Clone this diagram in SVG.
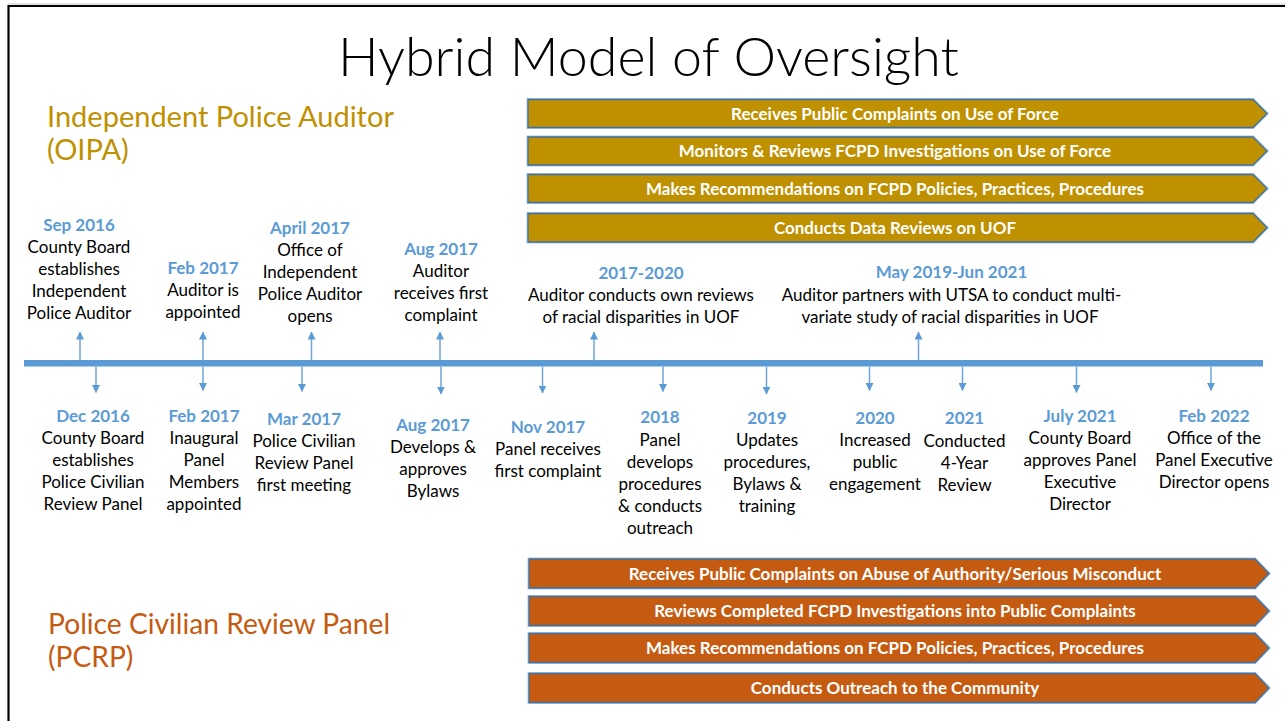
<svg xmlns="http://www.w3.org/2000/svg" width="1285" height="721" viewBox="0 0 1285 721">
  <style>
    .title { font-family: Lato, "Open Sans", "Liberation Sans", sans-serif; font-weight: 300; font-size: 53.8px; fill: #000; }
    .head { font-family: Lato, "Open Sans", "Liberation Sans", sans-serif; font-size: 29px; }
    .oipa { fill: #BF9000; }
    .pcrp { fill: #C55A11; font-size: 28.2px; }
    .bar-halo { stroke: #A9C6E8; stroke-width: 3; fill: none; }
    .bar-gold { fill: #BF9000; stroke: #41719C; stroke-width: 1.3; }
    .bar-orange { fill: #C55A11; stroke: #41719C; stroke-width: 1.3; }
    .bar-text { font-family: Lato, "Open Sans", "Liberation Sans", sans-serif; font-weight: 700; font-size: 17px; fill: #fff; text-anchor: middle; }
    .ev { font-family: Lato, "Open Sans", "Liberation Sans", sans-serif; font-size: 17px; fill: #000; text-anchor: middle; }
    .date { font-weight: 700; fill: #5B9BD5; }
    .tick { stroke: #6FA5DA; stroke-width: 1.5; fill: none; }
    .axis { fill: #5B9BD5; }
  </style>
  <defs>
    <marker id="tip" viewBox="0 0 8 8" refX="7.5" refY="4" markerWidth="8" markerHeight="8" markerUnits="userSpaceOnUse" orient="auto">
      <path d="M0,0 L8,4 L0,8 z" fill="#5B9BD5"/>
    </marker>
  </defs>

  <rect width="1285" height="721" fill="#fff"/>
  <!-- slide frame -->
  <path d="M8.5,721 V6 H1285" fill="none" stroke="#000" stroke-width="2.2"/>
  <path d="M8,4 H1285" fill="none" stroke="#C8C8C8" stroke-width="1"/>

  <g id="title">
    <text class="title" x="648.5" y="76" text-anchor="middle">Hybrid Model of Oversight</text>
  </g>

  <g id="heading-oipa">
    <text class="head oipa" x="47" y="127">Independent Police Auditor</text>
    <text class="head oipa" x="47" y="160">(OIPA)</text>
  </g>
  <g id="heading-pcrp">
    <text class="head pcrp" x="48" y="634">Police Civilian Review Panel</text>
    <text class="head pcrp" x="48" y="667">(PCRP)</text>
  </g>

  <!-- auditor function bars -->
  <g id="oipa-complaints">
    <polygon class="bar-halo" points="528,99.5 1253,99.5 1267,113.5 1253,127.5 528,127.5"/>
    <polygon class="bar-gold" points="528,99.5 1253,99.5 1267,113.5 1253,127.5 528,127.5"/>
    <text class="bar-text" x="895" y="119.5">Receives Public Complaints on Use of Force</text>
  </g>
  <g id="oipa-monitors">
    <polygon class="bar-halo" points="528,137 1253,137 1267,151 1253,165 528,165"/>
    <polygon class="bar-gold" points="528,137 1253,137 1267,151 1253,165 528,165"/>
    <text class="bar-text" x="895" y="157">Monitors &amp; Reviews FCPD Investigations on Use of Force</text>
  </g>
  <g id="oipa-recommendations">
    <polygon class="bar-halo" points="528,174.5 1253,174.5 1267,188.5 1253,202.5 528,202.5"/>
    <polygon class="bar-gold" points="528,174.5 1253,174.5 1267,188.5 1253,202.5 528,202.5"/>
    <text class="bar-text" x="895" y="194.5">Makes Recommendations on FCPD Policies, Practices, Procedures</text>
  </g>
  <g id="oipa-data">
    <polygon class="bar-halo" points="528,213.5 1253,213.5 1267,227.75 1253,242 528,242"/>
    <polygon class="bar-gold" points="528,213.5 1253,213.5 1267,227.75 1253,242 528,242"/>
    <text class="bar-text" x="895" y="234">Conducts Data Reviews on UOF</text>
  </g>

  <!-- panel function bars -->
  <g id="pcrp-complaints">
    <polygon class="bar-halo" points="529,559 1255,559 1269,573.5 1255,588 529,588"/>
    <polygon class="bar-orange" points="529,559 1255,559 1269,573.5 1255,588 529,588"/>
    <text class="bar-text" x="895" y="579.5">Receives Public Complaints on Abuse of Authority/Serious Misconduct</text>
  </g>
  <g id="pcrp-reviews">
    <polygon class="bar-halo" points="529,596.5 1255,596.5 1269,611 1255,625.5 529,625.5"/>
    <polygon class="bar-orange" points="529,596.5 1255,596.5 1269,611 1255,625.5 529,625.5"/>
    <text class="bar-text" x="895" y="617">Reviews Completed FCPD Investigations into Public Complaints</text>
  </g>
  <g id="pcrp-recommendations">
    <polygon class="bar-halo" points="529,633.5 1255,633.5 1269,648 1255,662.5 529,662.5"/>
    <polygon class="bar-orange" points="529,633.5 1255,633.5 1269,648 1255,662.5 529,662.5"/>
    <text class="bar-text" x="895" y="654">Makes Recommendations on FCPD Policies, Practices, Procedures</text>
  </g>
  <g id="pcrp-outreach">
    <polygon class="bar-halo" points="529,673.5 1255,673.5 1269,688 1255,702.5 529,702.5"/>
    <polygon class="bar-orange" points="529,673.5 1255,673.5 1269,688 1255,702.5 529,702.5"/>
    <text class="bar-text" x="895" y="694">Conducts Outreach to the Community</text>
  </g>

  <!-- timeline axis and event ticks -->
  <g id="connectors">
    <rect class="axis" x="24" y="360" width="1239" height="6.5"/>
    <!-- auditor milestones, above the axis -->
    <line class="tick" x1="80" y1="360" x2="80" y2="332" marker-end="url(#tip)"/>
    <line class="tick" x1="203" y1="360" x2="203" y2="332" marker-end="url(#tip)"/>
    <line class="tick" x1="311.5" y1="360" x2="311.5" y2="332" marker-end="url(#tip)"/>
    <line class="tick" x1="440" y1="360" x2="440" y2="332" marker-end="url(#tip)"/>
    <line class="tick" x1="594" y1="360" x2="594" y2="332" marker-end="url(#tip)"/>
    <line class="tick" x1="918.5" y1="360" x2="918.5" y2="332" marker-end="url(#tip)"/>
    <!-- panel milestones, below the axis -->
    <line class="tick" x1="96" y1="366.5" x2="96" y2="392.5" marker-end="url(#tip)"/>
    <line class="tick" x1="203" y1="366.5" x2="203" y2="390.5" marker-end="url(#tip)"/>
    <line class="tick" x1="302" y1="366.5" x2="302" y2="391.5" marker-end="url(#tip)"/>
    <line class="tick" x1="441" y1="366.5" x2="441" y2="394" marker-end="url(#tip)"/>
    <line class="tick" x1="542.5" y1="366.5" x2="542.5" y2="393" marker-end="url(#tip)"/>
    <line class="tick" x1="663" y1="366.5" x2="663" y2="391.5" marker-end="url(#tip)"/>
    <line class="tick" x1="766.5" y1="366.5" x2="766.5" y2="394" marker-end="url(#tip)"/>
    <line class="tick" x1="869.5" y1="366.5" x2="869.5" y2="390.5" marker-end="url(#tip)"/>
    <line class="tick" x1="962.5" y1="366.5" x2="962.5" y2="390.5" marker-end="url(#tip)"/>
    <line class="tick" x1="1076.5" y1="366.5" x2="1076.5" y2="392.5" marker-end="url(#tip)"/>
    <line class="tick" x1="1211" y1="366.5" x2="1211" y2="390.5" marker-end="url(#tip)"/>
  </g>

  <!-- auditor milestones -->
  <g id="ev-sep-2016">
    <text class="ev"><tspan class="date" x="79" y="231">Sep 2016</tspan><tspan x="79" y="253">County Board</tspan><tspan x="79" y="275">establishes</tspan><tspan x="79" y="297">Independent</tspan><tspan x="79" y="319">Police Auditor</tspan></text>
  </g>
  <g id="ev-feb-2017-auditor">
    <text class="ev"><tspan class="date" x="203" y="274">Feb 2017</tspan><tspan x="203" y="296">Auditor is</tspan><tspan x="203" y="318">appointed</tspan></text>
  </g>
  <g id="ev-apr-2017">
    <text class="ev"><tspan class="date" x="310" y="234">April 2017</tspan><tspan x="310" y="256">Office of</tspan><tspan x="310" y="278">Independent</tspan><tspan x="310" y="300">Police Auditor</tspan><tspan x="310" y="322">opens</tspan></text>
  </g>
  <g id="ev-aug-2017-auditor">
    <text class="ev"><tspan class="date" x="441" y="255">Aug 2017</tspan><tspan x="441" y="277">Auditor</tspan><tspan x="441" y="299">receives first</tspan><tspan x="441" y="321">complaint</tspan></text>
  </g>
  <g id="ev-2017-2020">
    <text class="ev"><tspan class="date" x="641" y="279">2017-2020</tspan><tspan x="641" y="301">Auditor conducts own reviews</tspan><tspan x="641" y="323">of racial disparities in UOF</tspan></text>
  </g>
  <g id="ev-2019-2021">
    <text class="ev"><tspan class="date" x="951.5" y="278">May 2019-Jun 2021</tspan><tspan x="951.5" y="301">Auditor partners with UTSA to conduct multi-</tspan><tspan x="950" y="323">variate study of racial disparities in UOF</tspan></text>
  </g>

  <!-- panel milestones -->
  <g id="ev-dec-2016">
    <text class="ev"><tspan class="date" x="93" y="422">Dec 2016</tspan><tspan x="93" y="444">County Board</tspan><tspan x="93" y="466">establishes</tspan><tspan x="93" y="488">Police Civilian</tspan><tspan x="93" y="510">Review Panel</tspan></text>
  </g>
  <g id="ev-feb-2017-panel">
    <text class="ev"><tspan class="date" x="204" y="422">Feb 2017</tspan><tspan x="204" y="444">Inaugural</tspan><tspan x="204" y="466">Panel</tspan><tspan x="204" y="488">Members</tspan><tspan x="204" y="510">appointed</tspan></text>
  </g>
  <g id="ev-mar-2017">
    <text class="ev"><tspan class="date" x="304" y="425">Mar 2017</tspan><tspan x="304" y="447">Police Civilian</tspan><tspan x="304" y="469">Review Panel</tspan><tspan x="304" y="491">first meeting</tspan></text>
  </g>
  <g id="ev-aug-2017-panel">
    <text class="ev"><tspan class="date" x="433" y="431">Aug 2017</tspan><tspan x="433" y="453">Develops &amp;</tspan><tspan x="433" y="475">approves</tspan><tspan x="433" y="497">Bylaws</tspan></text>
  </g>
  <g id="ev-nov-2017">
    <text class="ev"><tspan class="date" x="548" y="433">Nov 2017</tspan><tspan x="548" y="455">Panel receives</tspan><tspan x="548" y="477">first complaint</tspan></text>
  </g>
  <g id="ev-2018">
    <text class="ev"><tspan class="date" x="660" y="423">2018</tspan><tspan x="660" y="446">Panel</tspan><tspan x="660" y="468">develops</tspan><tspan x="660" y="490">procedures</tspan><tspan x="660" y="512">&amp; conducts</tspan><tspan x="660" y="534">outreach</tspan></text>
  </g>
  <g id="ev-2019">
    <text class="ev"><tspan class="date" x="767" y="424">2019</tspan><tspan x="767" y="446">Updates</tspan><tspan x="767" y="468">procedures,</tspan><tspan x="767" y="490">Bylaws &amp;</tspan><tspan x="767" y="512">training</tspan></text>
  </g>
  <g id="ev-2020">
    <text class="ev"><tspan class="date" x="875" y="424">2020</tspan><tspan x="875" y="446">Increased</tspan><tspan x="875" y="468">public</tspan><tspan x="875" y="490">engagement</tspan></text>
  </g>
  <g id="ev-2021">
    <text class="ev"><tspan class="date" x="964.5" y="424">2021</tspan><tspan x="964.5" y="447">Conducted</tspan><tspan x="964.5" y="469">4-Year</tspan><tspan x="964.5" y="491">Review</tspan></text>
  </g>
  <g id="ev-jul-2021">
    <text class="ev"><tspan class="date" x="1080" y="422">July 2021</tspan><tspan x="1080" y="444">County Board</tspan><tspan x="1080" y="466">approves Panel</tspan><tspan x="1080" y="488">Executive</tspan><tspan x="1080" y="510">Director</tspan></text>
  </g>
  <g id="ev-feb-2022">
    <text class="ev"><tspan class="date" x="1214" y="422">Feb 2022</tspan><tspan x="1214" y="444">Office of the</tspan><tspan x="1214" y="466">Panel Executive</tspan><tspan x="1214" y="488">Director opens</tspan></text>
  </g>
</svg>
